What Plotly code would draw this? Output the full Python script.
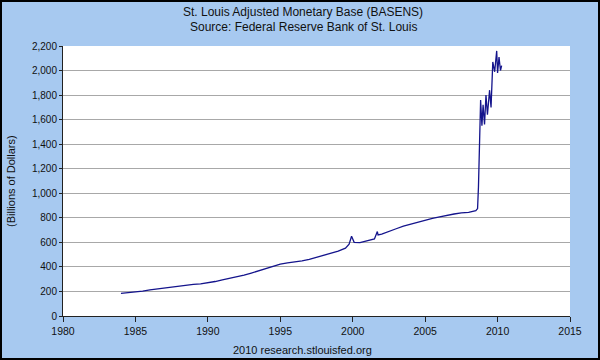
import plotly.graph_objects as go

# Data (fractional year, billions of dollars)
years = [1984.0, 1984.5, 1985.0, 1985.5, 1986.0, 1986.5, 1987.0, 1987.5, 1988.0, 1988.5,
         1989.0, 1989.5, 1990.0, 1990.5, 1991.0, 1991.5, 1992.0, 1992.5, 1993.0, 1993.5,
         1994.0, 1994.5, 1995.0, 1995.5, 1996.0, 1996.5, 1997.0, 1997.5, 1998.0, 1998.5,
         1999.0, 1999.5, 1999.75, 1999.92, 2000.0, 2000.1, 2000.5, 2001.0, 2001.5, 2001.7,
         2001.75, 2002.0, 2002.5, 2003.0, 2003.5, 2004.0, 2004.5, 2005.0, 2005.5, 2006.0,
         2006.5, 2007.0, 2007.5, 2008.0, 2008.5, 2008.62, 2008.68, 2008.75, 2008.83, 2008.92,
         2009.0, 2009.1, 2009.2, 2009.3, 2009.45, 2009.55, 2009.67, 2009.8, 2009.94, 2010.0,
         2010.1, 2010.2, 2010.28]
values = [185, 190, 196, 203, 212, 220, 230, 237, 244, 251,
          257, 262, 270, 281, 295, 306, 318, 333, 350, 367,
          385, 405, 423, 433, 440, 450, 462, 478, 494, 508,
          528, 553, 585, 650, 620, 600, 598, 612, 628, 688,
          660, 668, 692, 711, 732, 749, 764, 782, 795, 808,
          822, 831, 840, 845, 858, 875, 1050, 1500, 1760, 1550,
          1720, 1560, 1800, 1640, 1840, 1700, 2070, 1990, 2160, 1980,
          2110, 2000, 2040]

x_ticks = [1980, 1985, 1990, 1995, 2000, 2005, 2010, 2015]
y_ticks = [0, 200, 400, 600, 800, 1000, 1200, 1400, 1600, 1800, 2000, 2200]
y_tick_labels = ["0", "200", "400", "600", "800", "1,000", "1,200", "1,400",
                 "1,600", "1,800", "2,000", "2,200"]

title_line1 = "St. Louis Adjusted Monetary Base (BASENS)"
title_line2 = "Source: Federal Reserve Bank of St. Louis"
footer_text = "2010 research.stlouisfed.org"
y_title = "(Billions of Dollars)"

FONT = "Liberation Sans, Arial, sans-serif"
BG = "#a7c9f0"

fig = go.Figure()
fig.add_trace(go.Scatter(x=years, y=values, mode="lines",
                         line=dict(color="#14148c", width=1.3),
                         hoverinfo="skip", showlegend=False))

W, H = 600, 360
ML, MR, MT, MB = 63, 30, 46, 44
pw, ph = W - ML - MR, H - MT - MB

def px(p):
    return (p - ML) / pw

def py(p):
    return (H - MB - p) / ph

def label(text, x, y, size, angle=0):
    return dict(text=text, xref="paper", yref="paper", x=px(x), y=py(y),
                xanchor="center", yanchor="middle", showarrow=False, textangle=angle,
                font=dict(family=FONT, size=size, color="#111111"))

fig.update_layout(
    width=W, height=H,
    margin=dict(l=ML, r=MR, t=MT, b=MB, autoexpand=False),
    paper_bgcolor=BG, plot_bgcolor="white",
    font=dict(family=FONT, size=10, color="#111111"),
    xaxis=dict(range=[1980, 2015], tickvals=x_ticks, ticks="outside", ticklen=5,
               tickcolor="#222222", showgrid=False, showline=True, linecolor="#222222",
               linewidth=1, zeroline=False, tickfont=dict(size=10.5)),
    yaxis=dict(range=[0, 2200], tickvals=y_ticks, ticktext=y_tick_labels,
               ticks="outside", ticklen=3, tickcolor="#222222",
               showgrid=True, gridcolor="#a8a8a8", gridwidth=1,
               showline=True, linecolor="#222222", linewidth=1, zeroline=False,
               tickfont=dict(size=10)),
    annotations=[label(title_line1, 303, 12, 12),
                 label(title_line2, 303, 27, 12),
                 label(footer_text, 302, 350, 11),
                 label(y_title, 11, 181, 11, angle=-90)],
    shapes=[dict(type="rect", xref="paper", yref="paper",
                 x0=px(1), x1=px(599), y0=py(359), y1=py(1),
                 line=dict(color="#000000", width=2), fillcolor="rgba(0,0,0,0)",
                 layer="above")],
)

fig.write_html("out.html", config={"displayModeBar": False},
               post_script="document.body.style.margin='0';")
